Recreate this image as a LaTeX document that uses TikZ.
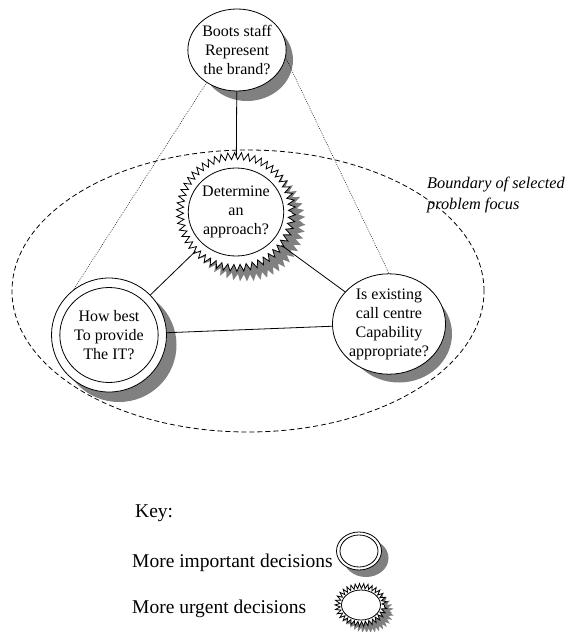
\documentclass[tikz,border=0pt]{standalone}
\usepackage{fontspec}
\setmainfont{Liberation Serif}
\usetikzlibrary{shapes.geometric,decorations.pathmorphing}

\tikzset{
	disc/.style = {ellipse, draw, fill=white, inner sep=0pt, line width=0.8pt,
		align=center, font=\fontsize{16}{19}\selectfont},
	shade/.style = {ellipse, fill=gray, inner sep=0pt},
	zig/.style = {decorate, decoration={zigzag, segment length=6.5pt, amplitude=3.5pt}},
	smallzig/.style = {decorate, decoration={zigzag, segment length=4pt, amplitude=2.5pt}},
	link/.style = {line width=0.8pt},
	hint/.style = {line width=0.5pt, dash pattern=on 0.8pt off 1.2pt},
	keytext/.style = {anchor = base west, inner sep=0pt, font=\fontsize{19.5}{23}\selectfont}
}

\begin{document}
\begin{tikzpicture}[x=1pt, y=-1pt]
		\useasboundingbox (0,0) rectangle (566,632);
		\node[ellipse, draw, line width=0.8pt, dash pattern=on 5pt off 3pt, minimum width=472pt, minimum height=282pt] (focus) at (248,291) {};
		\node[anchor = north west, inner sep=0pt, align=left, font=\fontsize{16.3}{21}\selectfont\itshape] (focuslabel) at (427,177) {Boundary of selected\\problem focus};
		% shadows
		\node[shade, minimum width=92pt, minimum height=82pt] (boots-sh) at (247,60) {};
		\node[shade, zig, minimum width=112pt, minimum height=112pt] (det-sh) at (246,222) {};
		\node[shade, minimum width=115pt, minimum height=114pt] (howbest-sh) at (119,345) {};
		\node[shade, minimum width=106pt, minimum height=97pt] (callctr-sh) at (399,334) {};
		\node[shade, minimum width=45pt, minimum height=38pt] (keyimp-sh) at (366,558) {};
		\node[shade, smallzig, minimum width=47pt, minimum height=38pt] (keyurg-sh) at (368,612) {};
		% decisions
		\node[disc, minimum width=92pt, minimum height=82pt] (boots) at (237,50) {Boots staff\\Represent\\the brand?};
		\node[disc, zig, minimum width=112pt, minimum height=112pt] (detz) at (236,212) {};
		\node[disc, minimum width=94pt, minimum height=88pt] (det) at (236,212) {Determine\\an\\approach?};
		\node[disc, minimum width=115pt, minimum height=114pt] (howbest-o) at (109,335) {};
		\node[disc, minimum width=95pt, minimum height=95pt] (howbest) at (109,335) {How best\\To provide\\The IT?};
		\node[disc, minimum width=106pt, minimum height=97pt] (callctr) at (389,324) {Is existing\\call centre\\Capability\\appropriate?};
		\draw[link] (boots) -- (detz);
		\draw[link] (detz) -- (howbest-o);
		\draw[link] (detz) -- (callctr);
		\draw[link] (howbest-o) -- (callctr);
		\draw[hint] (boots.227) -- (howbest-o.128);
		\draw[hint] (boots.351) -- (callctr.90);
		% key
		\node[keytext] (key) at (135,517) {Key:};
		\node[keytext] (keyimp-t) at (132,567) {More important decisions};
		\node[keytext] (keyurg-t) at (132,613) {More urgent decisions};
		\node[disc, minimum width=45pt, minimum height=38pt] (keyimp-o) at (359,551) {};
		\node[disc, minimum width=38pt, minimum height=32pt] (keyimp) at (359,551) {};
		\node[disc, smallzig, minimum width=47pt, minimum height=38pt] (keyurg-z) at (361,605) {};
		\node[disc, minimum width=39pt, minimum height=30pt] (keyurg) at (361,605) {};
		\end{tikzpicture}
\end{document}
